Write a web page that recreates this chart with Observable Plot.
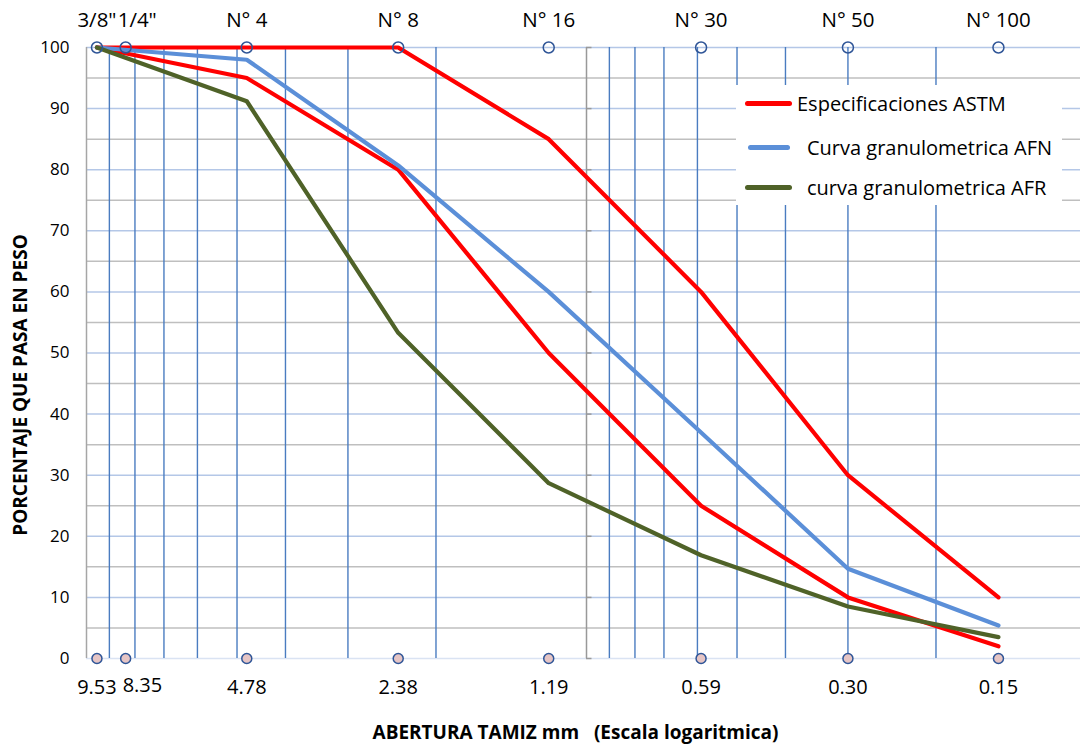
<!DOCTYPE html>
<html><head><meta charset="utf-8">
<script src="https://cdn.jsdelivr.net/npm/d3@7"></script>
<script src="https://cdn.jsdelivr.net/npm/@observablehq/plot@0.6"></script>
<style>
body{margin:0;background:#fff;overflow:hidden;font-family:"Open Sans",sans-serif}
#wrap{position:relative;width:1080px;height:747px}
#legend{position:absolute;left:736px;top:85px;width:326px;height:120px;background:#fff}
.item{position:absolute;height:24px;display:flex;align-items:center;font-size:20px;color:#000;white-space:pre}
.sw{display:inline-block;border-radius:3px}
</style></head><body><div id="wrap"><div id="legend"></div></div>
<script>
// ---- data ----
const sizes = [9.53, 8.35, 4.78, 2.38, 1.19, 0.59, 0.30, 0.15];
const sieveNames = ['3/8"', '1/4"', 'N° 4', 'N° 8', 'N° 16', 'N° 30', 'N° 50', 'N° 100'];
const sizeLabels = ["9.53", "8.35", "4.78", "2.38", "1.19", "0.59", "0.30", "0.15"];
const curveSizes = [9.53, 4.78, 2.38, 1.19, 0.59, 0.30, 0.15];
const astmUpper = [100, 100, 100, 85, 60, 30, 10];
const astmLower = [100, 95, 80, 50, 25, 10, 2];
const afn = [100, 98, 80.7, 60, 37, 14.7, 5.4];
const afr = [100, 91.2, 53.3, 28.7, 16.9, 8.5, 3.5];
const minorGrid = [9, 8, 7, 6, 5, 4, 3, 2, 0.9, 0.8, 0.7, 0.6, 0.5, 0.4, 0.3, 0.2];
const yTicks = [0, 10, 20, 30, 40, 50, 60, 70, 80, 90, 100];
const yHalf = [5, 15, 25, 35, 45, 55, 65, 75, 85, 95];
const legendItems = ["Especificaciones ASTM", " Curva granulometrica AFN", "curva granulometrica AFR"];
const xTitle = "ABERTURA TAMIZ mm\u00a0\u00a0\u00a0(Escala logaritmica)";
const yTitle = "PORCENTAJE QUE PASA EN PESO";

// ---- derived tables ----
const astmRows = curveSizes.flatMap((s, i) => [
  {s, v: astmUpper[i], k: "sup"}, {s, v: astmLower[i], k: "inf"}
]);
const afnRows = curveSizes.map((s, i) => ({s, v: afn[i]}));
const afrRows = curveSizes.map((s, i) => ({s, v: afr[i]}));
const sieves = sizes.map((s, i) => ({s, name: sieveNames[i], lab: sizeLabels[i]}));
const tens = yTicks.filter(d => d > 0);

const font = "'Open Sans', sans-serif";
const chart = Plot.plot({
  width: 1080, height: 747,
  marginTop: 47, marginBottom: 89, marginLeft: 86, marginRight: 0,
  style: {fontFamily: font, background: "white", color: "#000"},
  x: {type: "log", domain: [10, 0.1], range: [86, 1086], axis: null},
  y: {domain: [0, 100], axis: null},
  marks: [
    Plot.ruleY(yHalf, {stroke: "#bfbfbf", strokeWidth: 1.5}),
    Plot.ruleY(tens, {stroke: "#b4c7e7", strokeWidth: 1.5}),
    Plot.ruleY([0], {stroke: "#dae3f3", strokeWidth: 1.5}),
    Plot.ruleX(minorGrid, {stroke: "#4a7cc0", strokeWidth: 1.4}),
    Plot.ruleX([1], {stroke: "#999999", strokeWidth: 1.5}),
    Plot.ruleY(yTicks, {x1: 1, x2: 0.975, stroke: "#999999", strokeWidth: 1.5}),
    Plot.ruleX([10], {stroke: "#a6a6a6", strokeWidth: 1.5}),
    Plot.axisY(yTicks, {tickSize: 0, tickPadding: 17, fontSize: 17, label: null}),
    Plot.line(astmRows, {x: "s", y: "v", z: "k", stroke: "#ff0000", strokeWidth: 4.2, strokeLinejoin: "round"}),
    Plot.line(afnRows, {x: "s", y: "v", stroke: "#5b8fd8", strokeWidth: 4.2, strokeLinejoin: "round"}),
    Plot.line(afrRows, {x: "s", y: "v", stroke: "#4f6228", strokeWidth: 4.2, strokeLinejoin: "round"}),
    Plot.dot(sieves, {x: "s", y: 100, r: 5.5, stroke: "#2f5597", strokeWidth: 1.5, fill: "none"}),
    Plot.dot(sieves, {x: "s", y: 0, r: 5, stroke: "#2f5597", strokeWidth: 1.5, fill: "#e6c5c5"}),
    Plot.text(sieves.filter((d, i) => i !== 1), {x: "s", y: 100, text: "name", dy: -27, fontSize: 20.5}),
    Plot.text(sieves.filter((d, i) => i === 1), {x: "s", y: 100, text: "name", dy: -27, dx: -8, textAnchor: "start", fontSize: 20.5}),
    Plot.text(sieves.filter((d, i) => i !== 1), {x: "s", y: 0, text: "lab", dy: 29, fontSize: 20}),
    Plot.text(sieves.filter((d, i) => i === 1), {x: "s", y: 0, text: "lab", dy: 27, dx: -3, textAnchor: "start", fontSize: 20}),
    Plot.text([xTitle], {frameAnchor: "bottom", dy: 80, dx: -8, fontSize: 19, fontWeight: "bold"}),
    Plot.text([yTitle], {frameAnchor: "left", textAnchor: "middle", rotate: -90, dx: -66, dy: 32, fontSize: 19, fontWeight: "bold"})
  ]
});
document.getElementById("wrap").prepend(chart);

// ---- legend ----
const legendColors = ["#ff0000", "#5b8fd8", "#4f6228"];
const legendTops = [6, 50, 90];
const swLeft = [9, 12, 9], swWidth = [47, 42, 47], textLeft = [61, 71, 71];
const lg = document.getElementById("legend");
legendItems.forEach((t, i) => {
  const it = document.createElement("div");
  it.className = "item";
  it.style.top = legendTops[i] + "px";
  it.style.left = swLeft[i] + "px";
  const sw = document.createElement("span");
  sw.className = "sw";
  sw.style.width = swWidth[i] + "px";
  sw.style.height = "5px";
  sw.style.background = legendColors[i];
  sw.style.marginRight = (textLeft[i] - swLeft[i] - swWidth[i]) + "px";
  it.appendChild(sw);
  it.appendChild(document.createTextNode(t.trim()));
  lg.appendChild(it);
});
</script></body></html>
